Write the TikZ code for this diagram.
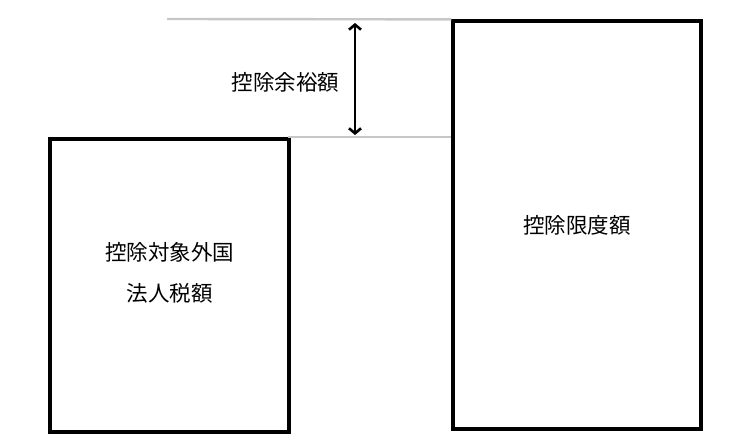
\documentclass[tikz,border=0pt]{standalone}
\usepackage{fontspec}
\setmainfont{Noto Sans CJK JP}
\usetikzlibrary{positioning,arrows.meta}

\begin{document}
\begin{tikzpicture}[x=1pt,y=1pt]
        \tikzstyle{box}=[draw, line width=3.2pt, inner sep=0pt, align=center, font=\fontsize{21.5}{41}\selectfont]
        \tikzstyle{guide}=[draw=black!22, line width=2.4pt]
        \useasboundingbox (0,0) rectangle (746,444);

        \node   (lbox)  [box, minimum width=239, minimum height=293,
                         label={[name=ltext, align=center, yshift=13pt, font=\fontsize{21.5}{41}\selectfont]center:控除対象外国\\法人税額}] at (169.5,158.5) {};
        \node   (rbox)  [box, minimum width=248, minimum height=408] at (577,219) {控除限度額};

        \coordinate (topend) at (167,425);
        \coordinate (lowend) at (288,307);
        \coordinate (up)     at (355,421);
        \coordinate (down)   at (355,309);

        \path[guide]    (topend) edge (rbox.north west)
                        (lowend) edge (rbox.west |- lowend);

        \draw[{Straight Barb[length=5pt,width=12pt]}-{Straight Barb[length=5pt,width=12pt]}, line width=2.6pt]
                        (up) -- coordinate (mid) (down);
        \node   (gap)   [left=12pt of mid, font=\fontsize{21.5}{25}\selectfont, yshift=-3pt] {控除余裕額};

    \end{tikzpicture}
\end{document}
